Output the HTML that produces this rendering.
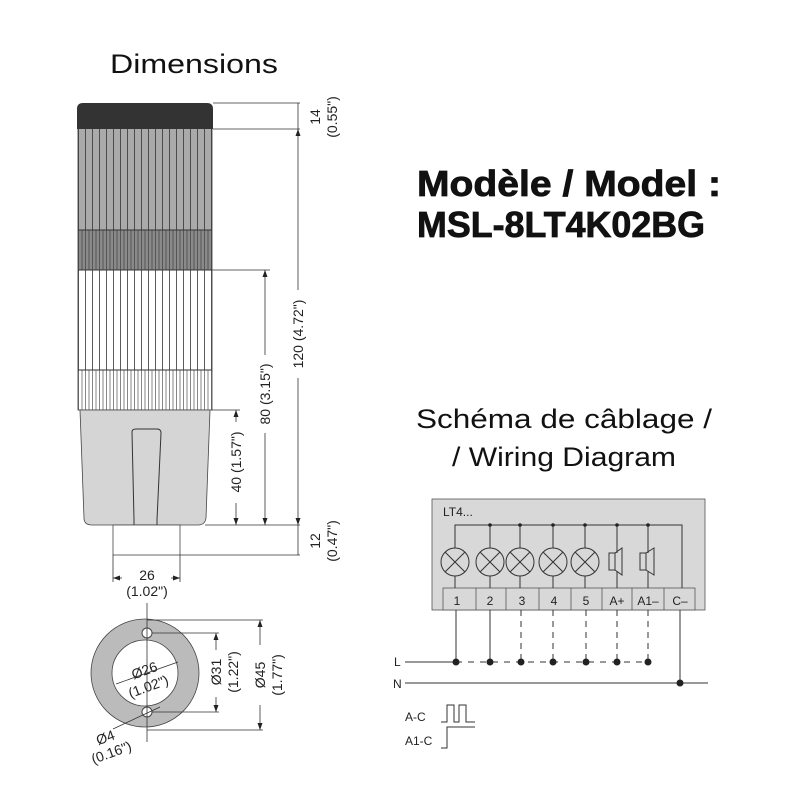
<!DOCTYPE html>
<html><head><meta charset="utf-8"><style>
html,body{margin:0;padding:0;background:#fff}
svg{display:block}
text{font-family:"Liberation Sans",sans-serif}
</style></head><body>
<svg width="800" height="800" viewBox="0 0 800 800" xmlns="http://www.w3.org/2000/svg">
<defs>
<pattern id="st" x="78" y="0" width="7" height="10" patternUnits="userSpaceOnUse">
<line x1="0.5" y1="0" x2="0.5" y2="10" stroke="#333" stroke-width="0.8"/></pattern>
<pattern id="st2" x="78" y="0" width="3.5" height="10" patternUnits="userSpaceOnUse">
<line x1="0.5" y1="0" x2="0.5" y2="10" stroke="#333" stroke-width="0.6"/></pattern>
<marker id="ar" markerWidth="8" markerHeight="8" refX="7" refY="4" orient="auto-start-reverse" markerUnits="userSpaceOnUse"><path d="M0,1.5 L7,4 L0,6.5 z" fill="#222"/></marker>
</defs>

<text x="110" y="73" font-size="27" fill="#111" textLength="168" lengthAdjust="spacingAndGlyphs">Dimensions</text>

<!-- tower -->
<rect x="78" y="128" width="134" height="102" fill="#aaa"/>
<rect x="78" y="128" width="134" height="102" fill="url(#st)"/>
<rect x="78" y="230" width="134" height="40" fill="#8a8a8a"/>
<rect x="78" y="230" width="134" height="40" fill="url(#st2)"/>
<rect x="78" y="270" width="134" height="100" fill="#fff"/>
<rect x="78" y="270" width="134" height="100" fill="url(#st)"/>
<rect x="78" y="370" width="134" height="40" fill="url(#st2)"/>
<rect x="78" y="128" width="134" height="282" fill="none" stroke="#333" stroke-width="0.8"/>
<line x1="78" y1="230" x2="212" y2="230" stroke="#333"/>
<line x1="78" y1="270" x2="212" y2="270" stroke="#333"/>
<line x1="78" y1="370" x2="212" y2="370" stroke="#333"/>
<path d="M77,103 Q77,103 83,103 L207,103 Q213,103 213,109 L213,129 L77,129 L77,109 Q77,103 83,103 Z" fill="#333"/>
<path d="M80,410 L210,410 L206,518 Q205,525 198,525 L92,525 Q84,525 84,518 Z" fill="#d5d5d5" stroke="#444" stroke-width="0.8"/>
<path d="M132,432 Q132,429 136,429 L157,429 Q161,429 161,433 L157,520 L157,525 L134,525 L134,520 Z" fill="none" stroke="#333" stroke-width="1"/>
<rect x="113" y="525" width="67" height="30" fill="#fff" stroke="#444" stroke-width="0.8"/>

<!-- dims -->
<g stroke="#333" stroke-width="0.8" fill="none">
<line x1="213" y1="103" x2="300" y2="103"/>
<line x1="213" y1="129" x2="300" y2="129"/>
<line x1="212" y1="270" x2="270" y2="270"/>
<line x1="212" y1="410" x2="240" y2="410"/>
<line x1="205" y1="525" x2="300" y2="525"/>
<line x1="180" y1="555" x2="300" y2="555"/>
<line x1="298" y1="103" x2="298" y2="129"/>
<line x1="298" y1="129" x2="298" y2="290" marker-start="url(#ar)"/>
<line x1="298" y1="378" x2="298" y2="525" marker-end="url(#ar)"/>
<line x1="298" y1="525" x2="298" y2="555"/>
<line x1="265" y1="270" x2="265" y2="355" marker-start="url(#ar)"/>
<line x1="265" y1="433" x2="265" y2="525" marker-end="url(#ar)"/>
<line x1="236" y1="410" x2="236" y2="422" marker-start="url(#ar)"/>
<line x1="236" y1="503" x2="236" y2="525" marker-end="url(#ar)"/>
<line x1="113" y1="555" x2="113" y2="582"/>
<line x1="180" y1="555" x2="180" y2="582"/>
<line x1="113" y1="578" x2="122" y2="578" marker-start="url(#ar)"/>
<line x1="171" y1="578" x2="180" y2="578" marker-end="url(#ar)"/>
</g>
<g fill="#222" font-size="14">
<text transform="translate(320,117) rotate(-90)" text-anchor="middle">14</text>
<text transform="translate(337,117) rotate(-90)" text-anchor="middle">(0.55")</text>
<text transform="translate(303,334) rotate(-90)" text-anchor="middle">120 (4.72")</text>
<text transform="translate(270,394) rotate(-90)" text-anchor="middle">80 (3.15")</text>
<text transform="translate(241,462) rotate(-90)" text-anchor="middle">40 (1.57")</text>
<text transform="translate(320,541) rotate(-90)" text-anchor="middle">12</text>
<text transform="translate(337,541) rotate(-90)" text-anchor="middle">(0.47")</text>
<text x="147" y="580" text-anchor="middle">26</text>
<text x="147" y="596" text-anchor="middle">(1.02")</text>
</g>

<!-- bottom view -->
<circle cx="145" cy="673" r="54" fill="#bbb" stroke="#444" stroke-width="0.8"/>
<circle cx="145" cy="673" r="33" fill="#fff" stroke="#444" stroke-width="0.8"/>
<circle cx="147" cy="633" r="5" fill="#fff" stroke="#444"/>
<circle cx="147" cy="712" r="5" fill="#fff" stroke="#444"/>
<g stroke="#333" stroke-width="0.8" fill="none">
<line x1="147" y1="603" x2="147" y2="742"/>
<line x1="147" y1="620" x2="263" y2="620"/>
<line x1="147" y1="730" x2="263" y2="730"/>
<line x1="152" y1="633" x2="219" y2="633"/>
<line x1="152" y1="712" x2="219" y2="712"/>
<line x1="260" y1="620" x2="260" y2="645" marker-start="url(#ar)"/>
<line x1="260" y1="705" x2="260" y2="730" marker-end="url(#ar)"/>
<line x1="216" y1="633" x2="216" y2="650" marker-start="url(#ar)"/>
<line x1="216" y1="697" x2="216" y2="712" marker-end="url(#ar)"/>
<line x1="116" y1="684" x2="178" y2="662"/>
<line x1="113" y1="729" x2="160" y2="707"/>
</g>
<g fill="#222" font-size="14">
<text transform="translate(146,675) rotate(-20)" text-anchor="middle">Ø26</text>
<text transform="translate(150,691) rotate(-20)" text-anchor="middle">(1.02")</text>
<text transform="translate(221,672) rotate(-90)" text-anchor="middle">Ø31</text>
<text transform="translate(238,672) rotate(-90)" text-anchor="middle">(1.22")</text>
<text transform="translate(265,675) rotate(-90)" text-anchor="middle">Ø45</text>
<text transform="translate(282,675) rotate(-90)" text-anchor="middle">(1.77")</text>
<text transform="translate(107,742) rotate(-20)" text-anchor="middle">Ø4</text>
<text transform="translate(113,757) rotate(-20)" text-anchor="middle">(0.16")</text>
</g>

<!-- model -->
<text x="417" y="196" font-size="36" font-weight="bold" fill="#111" textLength="304" lengthAdjust="spacingAndGlyphs" stroke="#111" stroke-width="0.8">Modèle / Model :</text>
<text x="417" y="237" font-size="36" font-weight="bold" fill="#111" textLength="288" lengthAdjust="spacingAndGlyphs" stroke="#111" stroke-width="0.8">MSL-8LT4K02BG</text>

<text x="416" y="428" font-size="27" fill="#111" textLength="296" lengthAdjust="spacingAndGlyphs">Schéma de câblage /</text>
<text x="452" y="466" font-size="27" fill="#111" textLength="224" lengthAdjust="spacingAndGlyphs">/ Wiring Diagram</text>

<!-- wiring box -->
<rect x="432" y="499" width="273" height="111" fill="#d8d8d8" stroke="#555" stroke-width="0.8"/>
<text x="443" y="516" font-size="12" fill="#222">LT4...</text>
<rect x="443" y="588" width="252" height="22" fill="#d8d8d8" stroke="#555" stroke-width="0.8"/>
<g stroke="#555" stroke-width="0.8">
<line x1="476" y1="588" x2="476" y2="610"/><line x1="506" y1="588" x2="506" y2="610"/>
<line x1="539" y1="588" x2="539" y2="610"/><line x1="571" y1="588" x2="571" y2="610"/>
<line x1="602" y1="588" x2="602" y2="610"/><line x1="632" y1="588" x2="632" y2="610"/>
<line x1="664" y1="588" x2="664" y2="610"/>
</g>
<g font-size="12" fill="#222" text-anchor="middle">
<text x="457" y="605">1</text><text x="490" y="605">2</text><text x="522" y="605">3</text>
<text x="554" y="605">4</text><text x="586" y="605">5</text><text x="617" y="605">A+</text>
<text x="648" y="605">A1–</text><text x="680" y="605">C–</text>
</g>
<g stroke="#333" stroke-width="1" fill="none">
<path d="M455,548 V525 H682 V588"/>
<line x1="490" y1="525" x2="490" y2="548"/><line x1="520" y1="525" x2="520" y2="548"/>
<line x1="553" y1="525" x2="553" y2="548"/><line x1="585" y1="525" x2="585" y2="548"/>
<line x1="617" y1="525" x2="617" y2="553"/><line x1="648" y1="525" x2="648" y2="553"/>
<line x1="455" y1="576" x2="455" y2="588"/><line x1="490" y1="576" x2="490" y2="588"/>
<line x1="520" y1="576" x2="520" y2="588"/><line x1="553" y1="576" x2="553" y2="588"/>
<line x1="585" y1="576" x2="585" y2="588"/>
<line x1="617" y1="571" x2="617" y2="588"/><line x1="648" y1="571" x2="648" y2="588"/>
</g>
<g stroke="#333" stroke-width="1" fill="none">
<circle cx="455" cy="562" r="14"/><path d="M445,552 L465,572 M465,552 L445,572"/>
<circle cx="490" cy="562" r="14"/><path d="M480,552 L500,572 M500,552 L480,572"/>
<circle cx="520" cy="562" r="14"/><path d="M510,552 L530,572 M530,552 L510,572"/>
<circle cx="553" cy="562" r="14"/><path d="M543,552 L563,572 M563,552 L543,572"/>
<circle cx="585" cy="562" r="14"/><path d="M575,552 L595,572 M595,552 L575,572"/>
<rect x="609" y="553" width="6" height="17"/><path d="M615,553 L622,548 L622,575 L615,570"/>
<rect x="640" y="553" width="6" height="17"/><path d="M646,553 L654,548 L654,575 L646,570"/>
</g>
<g fill="#222">
<circle cx="490" cy="525" r="1.8"/><circle cx="520" cy="525" r="1.8"/><circle cx="553" cy="525" r="1.8"/>
<circle cx="585" cy="525" r="1.8"/><circle cx="617" cy="525" r="1.8"/><circle cx="648" cy="525" r="1.8"/>
</g>
<!-- external -->
<g stroke="#333" stroke-width="1" fill="none">
<line x1="405" y1="662" x2="456" y2="662"/>
<line x1="456" y1="662" x2="648" y2="662" stroke-dasharray="6,6"/>
<line x1="405" y1="683" x2="708" y2="683"/>
<line x1="456" y1="610" x2="456" y2="662"/>
<line x1="490" y1="610" x2="490" y2="662"/>
<g stroke-dasharray="6,5">
<line x1="521" y1="610" x2="521" y2="662"/><line x1="553" y1="610" x2="553" y2="662"/>
<line x1="586" y1="610" x2="586" y2="662"/><line x1="617" y1="610" x2="617" y2="662"/>
<line x1="648" y1="610" x2="648" y2="662"/>
</g>
<line x1="680" y1="610" x2="680" y2="683"/>
<path d="M441,722 H447 V705 H454 V722 H459 V705 H466 V722 H475"/>
<path d="M441,748 H447 V727 H475"/>
</g>
<g fill="#222">
<circle cx="456" cy="662" r="3.5"/><circle cx="490" cy="662" r="3.5"/><circle cx="521" cy="662" r="3.5"/>
<circle cx="553" cy="662" r="3.5"/><circle cx="586" cy="662" r="3.5"/><circle cx="617" cy="662" r="3.5"/>
<circle cx="648" cy="662" r="3.5"/><circle cx="680" cy="683" r="3.5"/>
</g>
<g font-size="12" fill="#222">
<text x="394" y="666">L</text><text x="393" y="688">N</text>
<text x="405" y="721">A-C</text><text x="405" y="745">A1-C</text>
</g>
</svg>
</body></html>
